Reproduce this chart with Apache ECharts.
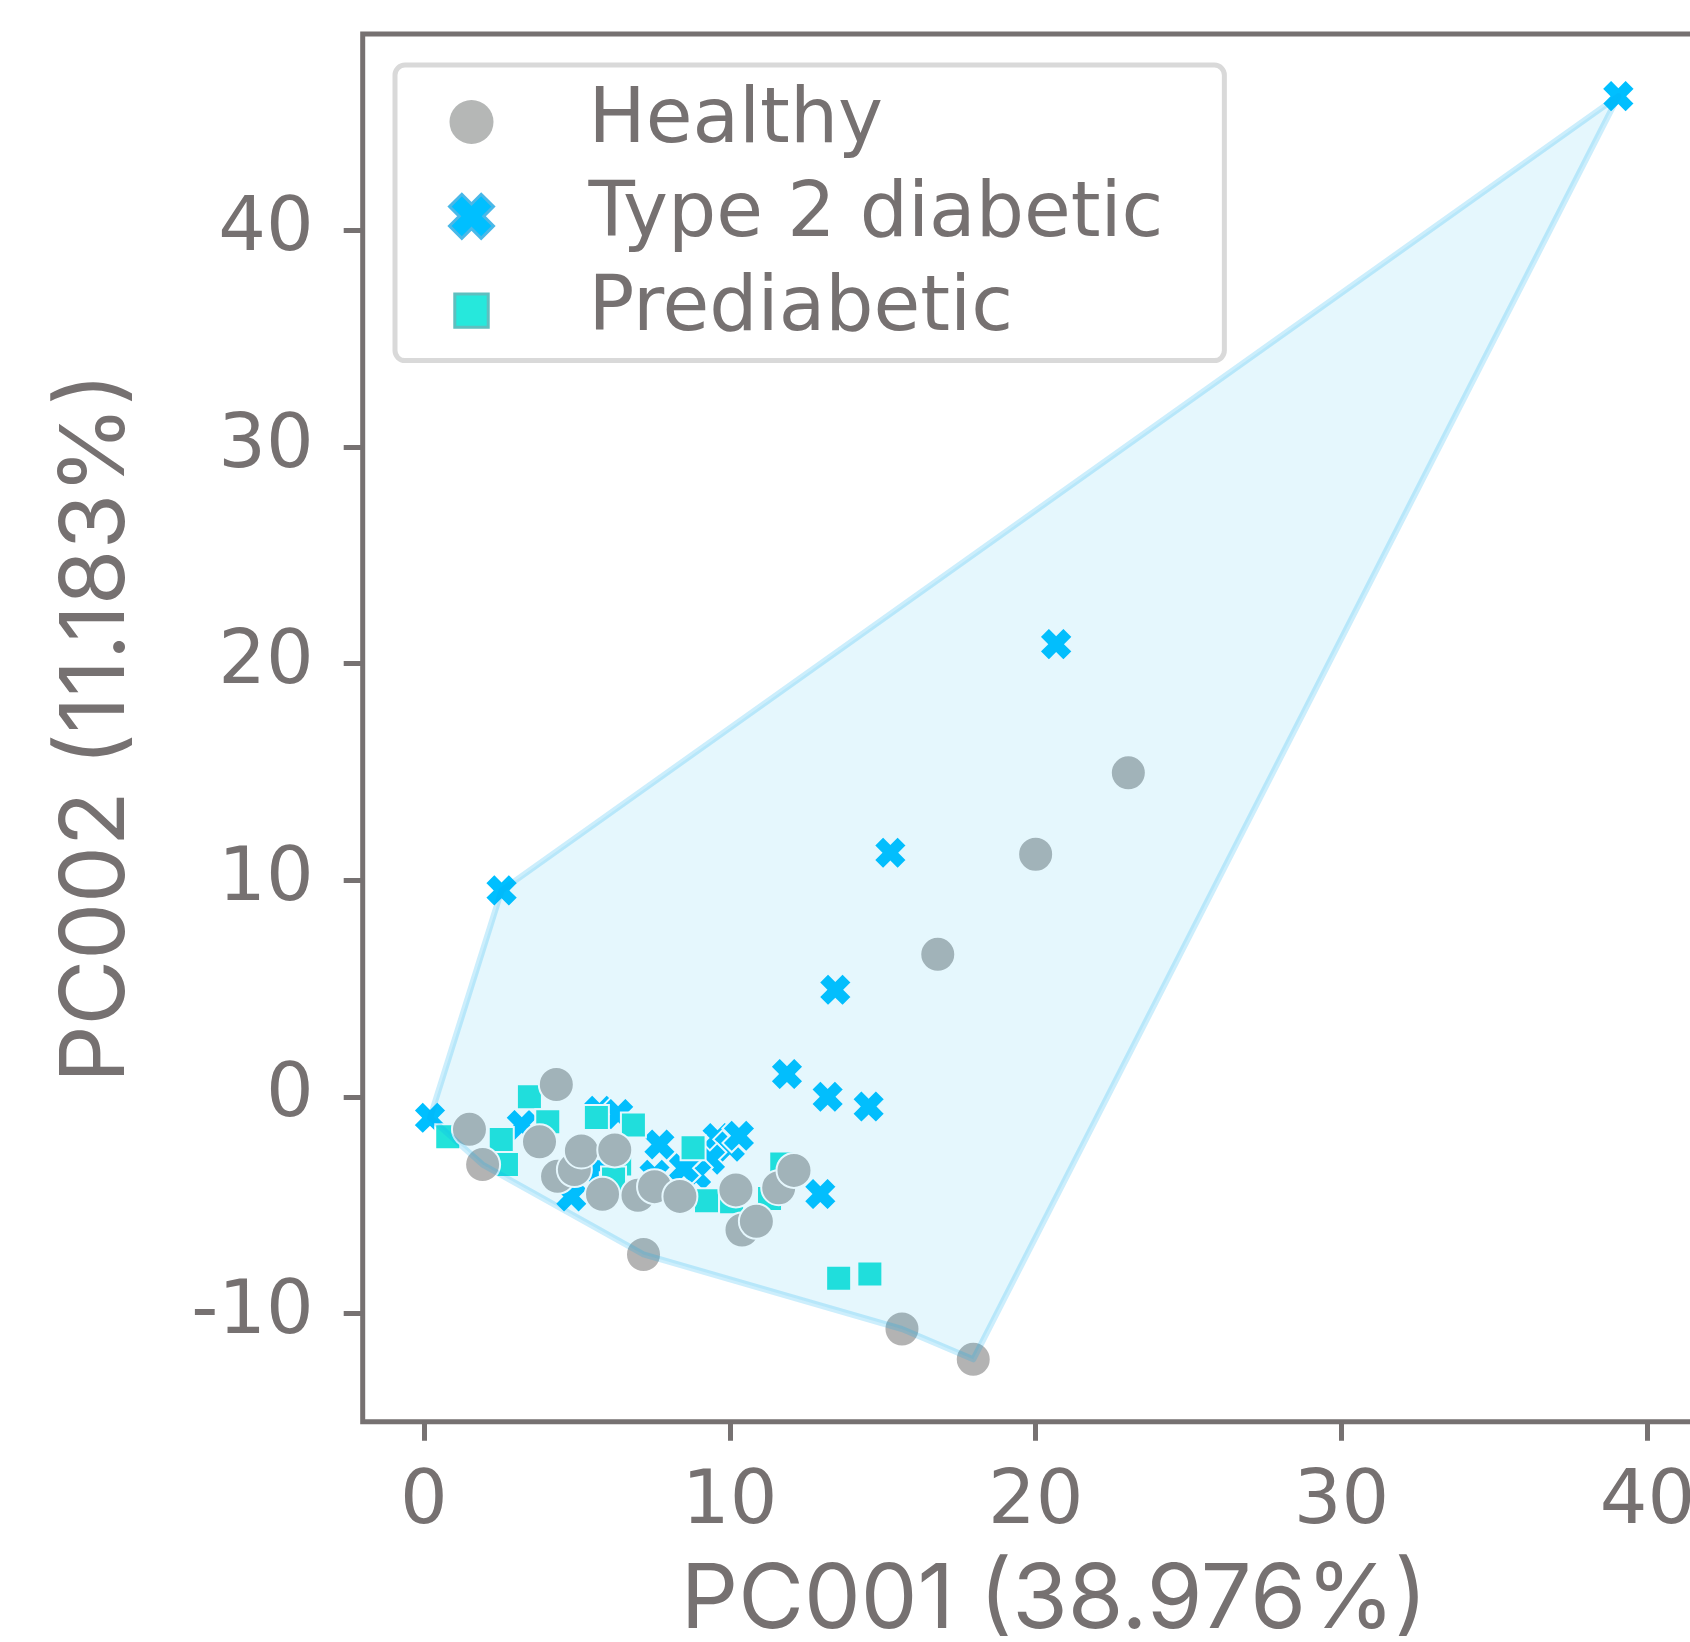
<!DOCTYPE html>
<html>
<head>
<meta charset="utf-8">
<script src="https://cdn.jsdelivr.net/npm/echarts@6/dist/echarts.min.js"></script>
<style>
  html, body { margin: 0; padding: 0; background: #ffffff; }
  #chart { width: 1690px; height: 1642px; }
</style>
</head>
<body>
<div id="chart"></div>
<script>
// ---- data (PC001, PC002) ----
const seriesNames = ['Healthy', 'Type 2 diabetic', 'Prediabetic'];

const healthyPts = [
  [23.03, 14.96], [20.0, 11.2], [16.8, 6.58], [4.33, 0.57], [1.49, -1.5],
  [1.92, -3.13], [3.78, -2.08], [4.37, -3.67], [4.92, -3.36], [5.15, -2.5],
  [6.24, -2.45], [5.84, -4.5], [7.0, -4.55], [7.54, -4.15], [8.37, -4.6],
  [10.2, -4.3], [10.4, -6.15], [10.87, -5.75], [11.6, -4.2], [12.1, -3.4],
  [7.18, -7.28], [15.63, -10.72], [17.96, -12.12]
];

const t2dPts = [
  [39.05, 46.2], [20.67, 20.9], [15.25, 11.27], [2.54, 9.53], [13.45, 4.94],
  [11.87, 1.05], [13.2, 0.0], [14.54, -0.45], [12.96, -4.49], [0.2, -0.97],
  [7.7, -2.2], [7.54, -3.6], [3.2, -1.3], [5.74, -0.65], [6.35, -0.8],
  [4.82, -4.6], [5.7, -3.3], [9.6, -1.9], [10.0, -2.3], [10.3, -1.8],
  [9.35, -2.9], [8.9, -3.6], [8.5, -3.3]
];

const prediabeticPts = [
  [13.56, -8.38], [14.58, -8.18], [3.45, 0.0], [4.05, -1.15], [2.53, -1.97],
  [2.7, -3.13], [0.78, -1.84], [5.64, -0.96], [6.85, -1.3], [8.8, -2.35],
  [9.24, -4.8], [11.7, -3.1], [11.3, -4.7], [10.06, -4.85], [6.16, -4.06],
  [6.4, -3.1], [6.2, -3.8]
];

// convex hull vertices (all points)
const hullVertices = [
  [0.2, -0.97], [2.54, 9.53], [39.05, 46.2], [17.96, -12.12],
  [15.63, -10.72], [7.18, -7.28], [1.92, -3.13]
];

const xTicks = [0, 10, 20, 30, 40];
const yTicks = [-10, 0, 10, 20, 30, 40];
const xName = 'PC001 (38.976%)';
const yName = 'PC002 (11.183%)';

// ---- styling ----
const FONT = '"DejaVu Sans", Inter, sans-serif';
const TITLE_FONT = 'Inter, "DejaVu Sans", sans-serif';
const INK = '#767171';
const X_PATH = 'path://M0 28 L28 0 L50 22 L72 0 L100 28 L78 50 L100 72 L72 100 L50 78 L28 100 L0 72 L22 50 Z';
const SQ_PATH_LEGEND = 'path://M0 0 M100 100 M12 12 L88 12 L88 88 L12 88 Z';

const chart = echarts.init(document.getElementById('chart'), null, { renderer: 'canvas' });

const axisCommon = {
  type: 'value',
  axisLine: { show: false, onZero: false },
  splitLine: { show: false },
  axisTick: { show: true, length: 19, lineStyle: { color: INK, width: 5 } },
  nameTextStyle: { color: INK, fontFamily: TITLE_FONT, fontSize: 90, lineHeight: 90 }
};

chart.setOption({
  backgroundColor: '#ffffff',
  animation: false,
  grid: {
    left: 362.7, top: 34, width: 1382.6, height: 1387.7,
    show: true, borderColor: INK, borderWidth: 5, backgroundColor: 'transparent',
    containLabel: false, outerBoundsMode: 'none'
  },
  legend: {
    orient: 'vertical',
    left: 395, top: 65,
    padding: [19, 61, 12, 53],
    itemGap: 18.3,
    itemWidth: 44, itemHeight: 44,
    backgroundColor: '#ffffff',
    borderColor: '#d9d9d9', borderWidth: 5, borderRadius: 10,
    selectedMode: false,
    textStyle: { color: INK, fontFamily: FONT, fontSize: 76, lineHeight: 72, padding: [0, 0, 0, 90] },
    data: [
      { name: seriesNames[0], icon: 'circle', itemStyle: { color: '#b5b7b6', borderWidth: 0 } },
      { name: seriesNames[1], icon: X_PATH, itemStyle: { color: '#00bfff', borderColor: '#4ab8e8', borderWidth: 3 } },
      { name: seriesNames[2], icon: SQ_PATH_LEGEND, itemStyle: { color: '#26e8dc', borderColor: '#5fbfbf', borderWidth: 3 } }
    ]
  },
  xAxis: Object.assign({}, axisCommon, {
    min: -2, max: 43.2,
    position: 'bottom',
    name: xName, nameLocation: 'middle', nameGap: 134,
    axisTick: Object.assign({}, axisCommon.axisTick, { customValues: xTicks }),
    axisLabel: { customValues: xTicks, color: INK, fontFamily: FONT, fontSize: 75, lineHeight: 75, margin: 44 }
  }),
  yAxis: Object.assign({}, axisCommon, {
    min: -15, max: 49.07,
    position: 'left',
    name: yName, nameLocation: 'middle', nameGap: 221,
    axisTick: Object.assign({}, axisCommon.axisTick, { customValues: yTicks }),
    axisLabel: { customValues: yTicks, color: INK, fontFamily: FONT, fontSize: 75, lineHeight: 75, margin: 49 }
  }),
  series: [
    {
      name: seriesNames[1], type: 'scatter', data: t2dPts, z: 2,
      symbol: X_PATH, symbolSize: 33,
      itemStyle: { color: '#00bfff', borderColor: '#ffffff', borderWidth: 2, opacity: 1 }
    },
    {
      name: seriesNames[2], type: 'scatter', data: prediabeticPts, z: 3,
      symbol: 'rect', symbolSize: 25,
      itemStyle: { color: '#22e3da', borderColor: '#ffffff', borderWidth: 2, opacity: 1 }
    },
    {
      name: seriesNames[0], type: 'scatter', data: healthyPts, z: 4,
      symbol: 'circle', symbolSize: 35,
      itemStyle: { color: '#b3b3b3', borderColor: '#ffffff', borderWidth: 2, opacity: 1 }
    },
    {
      name: 'hull', type: 'custom', data: hullVertices, z: 6, silent: true,
      encode: { x: 0, y: 1 },
      renderItem: function (params, api) {
        if (params.dataIndex !== 0) return null;
        const pts = hullVertices.map(function (p) { return api.coord(p); });
        return {
          type: 'polygon',
          shape: { points: pts },
          style: { fill: 'rgba(20,180,240,0.11)', stroke: 'rgba(0,170,240,0.2)', lineWidth: 6, lineJoin: 'round' }
        };
      }
    }
  ]
});
</script>
</body>
</html>
